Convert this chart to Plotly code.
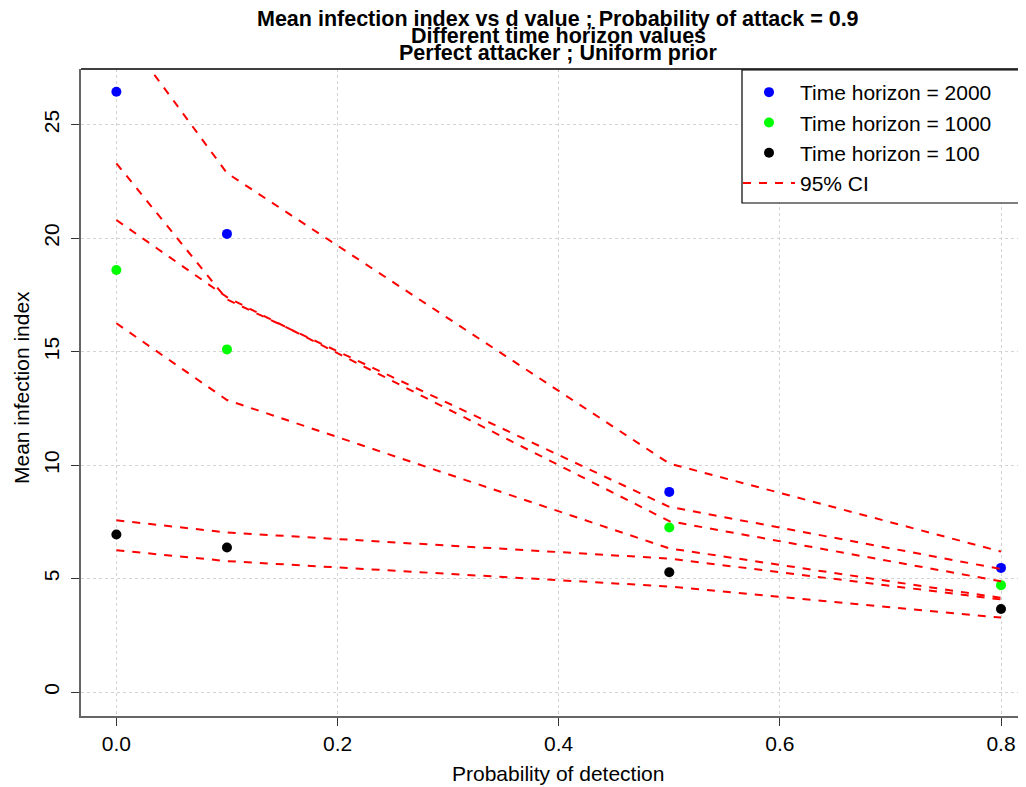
import plotly.graph_objects as go

# ---- data ----
prob_detection = [0.0, 0.1, 0.5, 0.8]

mean_2000 = [26.45, 20.19, 8.82, 5.47]
mean_1000 = [18.6, 15.1, 7.25, 4.71]
mean_100 = [6.94, 6.37, 5.28, 3.66]

ci_2000_upper = [29.47, 22.87, 10.07, 6.19]
ci_2000_lower = [23.3, 17.3, 8.16, 5.42]
ci_1000_upper = [20.8, 17.4, 7.53, 4.88]
ci_1000_lower = [16.25, 12.87, 6.33, 4.15]
ci_100_upper = [7.57, 7.03, 5.88, 4.08]
ci_100_lower = [6.25, 5.77, 4.65, 3.28]

x_ticks = [0.0, 0.2, 0.4, 0.6, 0.8]
y_ticks = [0, 5, 10, 15, 20, 25]

title_lines = [
    "Mean infection index vs d value ; Probability of attack = 0.9",
    "Different time horizon values",
    "Perfect attacker ; Uniform prior",
]

FONT = "Liberation Sans, Arial, sans-serif"
FS = 21

fig = go.Figure()

series = [
    ("Time horizon = 2000", mean_2000, "#0000ff"),
    ("Time horizon = 1000", mean_1000, "#00ff00"),
    ("Time horizon = 100", mean_100, "#000000"),
]
for name, vals, col in series:
    fig.add_trace(go.Scatter(
        x=prob_detection, y=vals, mode="markers", name=name,
        marker=dict(color=col, size=10, line=dict(width=0)),
        cliponaxis=False,
    ))

ci_sets = [ci_2000_upper, ci_2000_lower, ci_1000_upper, ci_1000_lower,
           ci_100_upper, ci_100_lower]
for i, ci in enumerate(ci_sets):
    fig.add_trace(go.Scatter(
        x=prob_detection, y=ci, mode="lines", name="95% CI",
        line=dict(color="#ff0000", width=2, dash="8px,8px"),
        legendgroup="ci", showlegend=(i == 0),
    ))

# layout geometry (page body has an 8px margin)
OFF = 8
W, H = 1026 - OFF, 787 - OFF
PL, PR, PT, PB = 81, 1026, 69, 716          # plot area in window pixels
L, T = PL - OFF, PT - OFF
R = (W + OFF) - PR
B = (H + OFF) - PB
pw, ph = PR - PL, PB - PT


def px(xp):
    return (xp - PL) / pw


def py(yp):
    return (PB - yp) / ph


annotations = []
for txt, yc in zip(title_lines, [19.5, 36.5, 53.5]):
    annotations.append(dict(
        text="<b>%s</b>" % txt, x=px(558), y=py(yc), xref="paper", yref="paper",
        xanchor="center", yanchor="middle", showarrow=False,
        font=dict(family=FONT, size=21.5, color="black"),
    ))
annotations.append(dict(
    text="Probability of detection", x=px(558), y=py(773), xref="paper",
    yref="paper", xanchor="center", yanchor="middle", showarrow=False,
    font=dict(family=FONT, size=FS, color="black"),
))
annotations.append(dict(
    text="Mean infection index", x=px(21), y=py(388), xref="paper",
    yref="paper", xanchor="center", yanchor="middle", showarrow=False,
    textangle=-90, font=dict(family=FONT, size=FS, color="black"),
))

axis_common = dict(
    showline=True, linecolor="#666666", linewidth=1.5,
    ticks="outside", ticklen=8, tickcolor="#333333", tickwidth=1.2,
    showgrid=True, gridcolor="#d3d3d3", griddash="dot", gridwidth=1,
    zeroline=False, tickfont=dict(family=FONT, size=FS, color="black"),
)

fig.update_layout(
    width=W, height=H,
    margin=dict(l=L, r=R, t=T, b=B, pad=0),
    paper_bgcolor="white", plot_bgcolor="white",
    font=dict(family=FONT, size=FS, color="black"),
    xaxis=dict(range=[-0.032, 0.8226], tickvals=x_ticks, tickformat=".1f",
               **axis_common),
    yaxis=dict(range=[-1.056, 27.456], tickvals=y_ticks, tickangle=-90,
               ticklabelstandoff=4, **axis_common),
    legend=dict(
        x=px(738), y=py(72), xanchor="left", yanchor="top",
        borderwidth=0, bgcolor="rgba(0,0,0,0)",
        font=dict(family=FONT, size=FS, color="black"),
        tracegroupgap=0, itemwidth=52,
    ),
    annotations=annotations,
    shapes=[
        dict(type="line", xref="paper", yref="paper", x0=0, x1=1,
             y0=1, y1=1, line=dict(color="black", width=1.5)),
        dict(type="rect", xref="paper", yref="paper", x0=px(742),
             x1=px(1040), y0=py(203), y1=py(70), fillcolor="white",
             line=dict(color="black", width=1.2), layer="above"),
    ],
    showlegend=True,
)

fig.write_html("out.html")
